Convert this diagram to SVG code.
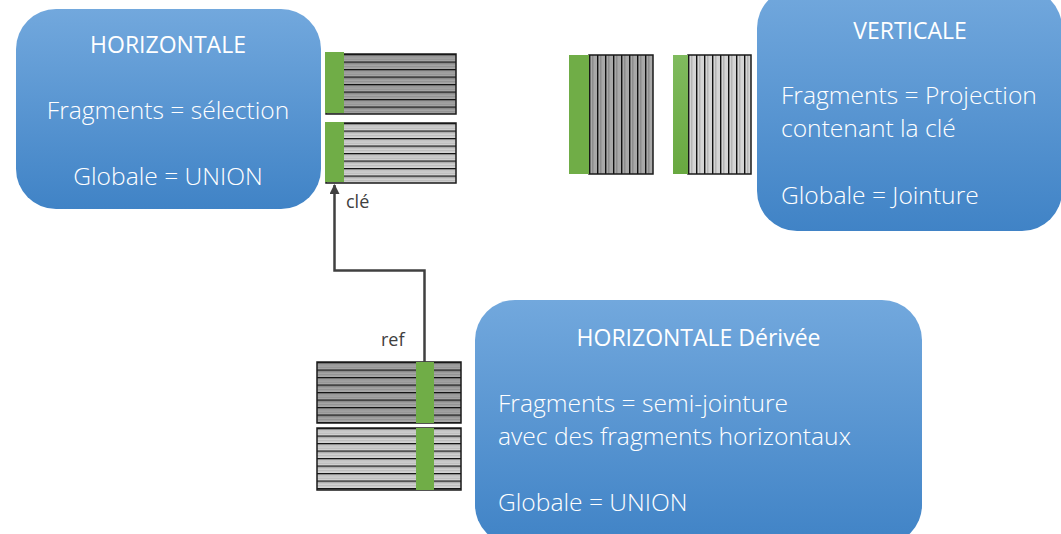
<svg xmlns="http://www.w3.org/2000/svg" width="1061" height="534" viewBox="0 0 1061 534">
  <style>
    .box { fill: url(#boxFill); }
    .title { font-family: "Open Sans", "Liberation Sans", sans-serif; font-size: 23px; fill: #ffffff; }
    .body { font-family: "Open Sans", "Liberation Sans", sans-serif; font-weight: 300; font-size: 24.6px; fill: #ffffff; }
    .lbl { font-family: "Open Sans", "Liberation Sans", sans-serif; font-size: 18px; fill: #404040; }
    .frame { fill: none; stroke: #1a1a1a; stroke-width: 1.5; }
    .key { fill: #70ad47; }
    .link { fill: none; stroke: #404040; stroke-width: 2.5; }
  </style>
  <defs>
    <linearGradient id="boxFill" x1="0" y1="0" x2="0" y2="1">
      <stop offset="0" stop-color="#72a8dd"/>
      <stop offset="1" stop-color="#4083c6"/>
    </linearGradient>
    <linearGradient id="keyFill" x1="0" y1="0" x2="0" y2="1">
      <stop offset="0" stop-color="#80bb5e"/>
      <stop offset="1" stop-color="#68a840"/>
    </linearGradient>
    <!-- striped rows (horizontal fragments) -->
    <pattern id="rowsDark" width="10" height="7.5" patternUnits="userSpaceOnUse">
      <rect width="10" height="7.5" fill="#a8a8a8"/>
      <rect y="2.3" width="10" height="1" fill="#8d8d8d"/>
      <rect y="4.8" width="10" height="1" fill="#8d8d8d"/>
      <rect width="10" height="1.3" fill="#111111"/>
    </pattern>
    <pattern id="rowsLight" width="10" height="7.5" patternUnits="userSpaceOnUse">
      <rect width="10" height="7.5" fill="#d4d4d4"/>
      <rect y="2.3" width="10" height="1" fill="#b5b5b5"/>
      <rect y="4.8" width="10" height="1" fill="#b5b5b5"/>
      <rect width="10" height="1.3" fill="#111111"/>
    </pattern>
    <!-- striped columns (vertical fragments) -->
    <pattern id="colsDark" width="8" height="10" patternUnits="userSpaceOnUse">
      <rect width="8" height="10" fill="#a8a8a8"/>
      <rect x="3" width="1.5" height="10" fill="#8d8d8d"/>
      <rect width="1.4" height="10" fill="#111111"/>
    </pattern>
    <pattern id="colsLight" width="8" height="10" patternUnits="userSpaceOnUse">
      <rect width="8" height="10" fill="#d4d4d4"/>
      <rect x="3" width="1.5" height="10" fill="#b5b5b5"/>
      <rect width="1.4" height="10" fill="#111111"/>
    </pattern>
    <marker id="arrow" viewBox="0 0 10 10" refX="9" refY="5" markerWidth="4" markerHeight="4" markerUnits="strokeWidth" orient="auto">
      <path d="M0,0 L10,5 L0,10 Z" fill="#404040"/>
    </marker>
  </defs>

  <rect width="1061" height="534" fill="#ffffff"/>

  <!-- horizontal fragmentation -->
  <g id="horizontale">
    <rect class="box" x="16" y="9" width="305" height="200" rx="40"/>
    <text class="title" x="168" y="52.5" text-anchor="middle">HORIZONTALE</text>
    <text class="body" x="168" y="119" text-anchor="middle">Fragments = sélection</text>
    <text class="body" x="168" y="184.5" text-anchor="middle">Globale = UNION</text>
  </g>

  <g id="table-h1" transform="translate(326,54)">
    <rect width="130" height="60" fill="url(#rowsDark)"/>
    <rect class="frame" width="130" height="60"/>
    <rect class="key" x="-1" y="-2" width="19" height="61"/>
  </g>
  <g id="table-h2" transform="translate(326,123)">
    <rect width="130" height="60" fill="url(#rowsLight)"/>
    <rect class="frame" width="130" height="60"/>
    <rect class="key" x="-1" y="-1" width="19" height="60"/>
  </g>

  <!-- vertical fragmentation -->
  <g id="verticale">
    <rect class="box" x="757" y="-12" width="305" height="243" rx="40"/>
    <text class="title" x="910" y="38.5" text-anchor="middle">VERTICALE</text>
    <text class="body" x="781" y="104">Fragments = Projection</text>
    <text class="body" x="781" y="137">contenant la clé</text>
    <text class="body" x="781" y="204">Globale = Jointure</text>
  </g>

  <g id="table-v1" transform="translate(589,55)">
    <rect width="64" height="119" fill="url(#colsDark)"/>
    <rect class="frame" width="64" height="119"/>
    <rect class="key" x="-20" y="0" width="20" height="119"/>
  </g>
  <g id="table-v2" transform="translate(688,55)">
    <rect width="63" height="119" fill="url(#colsLight)"/>
    <rect class="frame" width="63" height="119"/>
    <rect x="-15" y="0" width="15" height="119" fill="url(#keyFill)"/>
  </g>

  <!-- derived horizontal fragmentation -->
  <g id="derivee">
    <rect class="box" x="475" y="300" width="447" height="245" rx="40"/>
    <text class="title" x="698.5" y="345.5" text-anchor="middle">HORIZONTALE Dérivée</text>
    <text class="body" x="498" y="412">Fragments = semi-jointure</text>
    <text class="body" x="498" y="444.5">avec des fragments horizontaux</text>
    <text class="body" x="498" y="510.5">Globale = UNION</text>
  </g>

  <g id="table-d1" transform="translate(317,362)">
    <rect width="144" height="61" fill="url(#rowsDark)"/>
    <rect class="frame" width="144" height="61"/>
    <rect class="key" x="99" y="0" width="18" height="61"/>
  </g>
  <g id="table-d2" transform="translate(317,428)">
    <rect width="144" height="62" fill="url(#rowsLight)"/>
    <rect class="frame" width="144" height="62"/>
    <rect class="key" x="99" y="0" width="18" height="62"/>
  </g>

  <!-- foreign key reference -->
  <g id="connectors">
    <path class="link" d="M424.5,362 V270.5 H334.5 V185" marker-end="url(#arrow)"/>
    <text class="lbl" x="346" y="208">clé</text>
    <text class="lbl" x="381" y="345.5">ref</text>
  </g>
</svg>
